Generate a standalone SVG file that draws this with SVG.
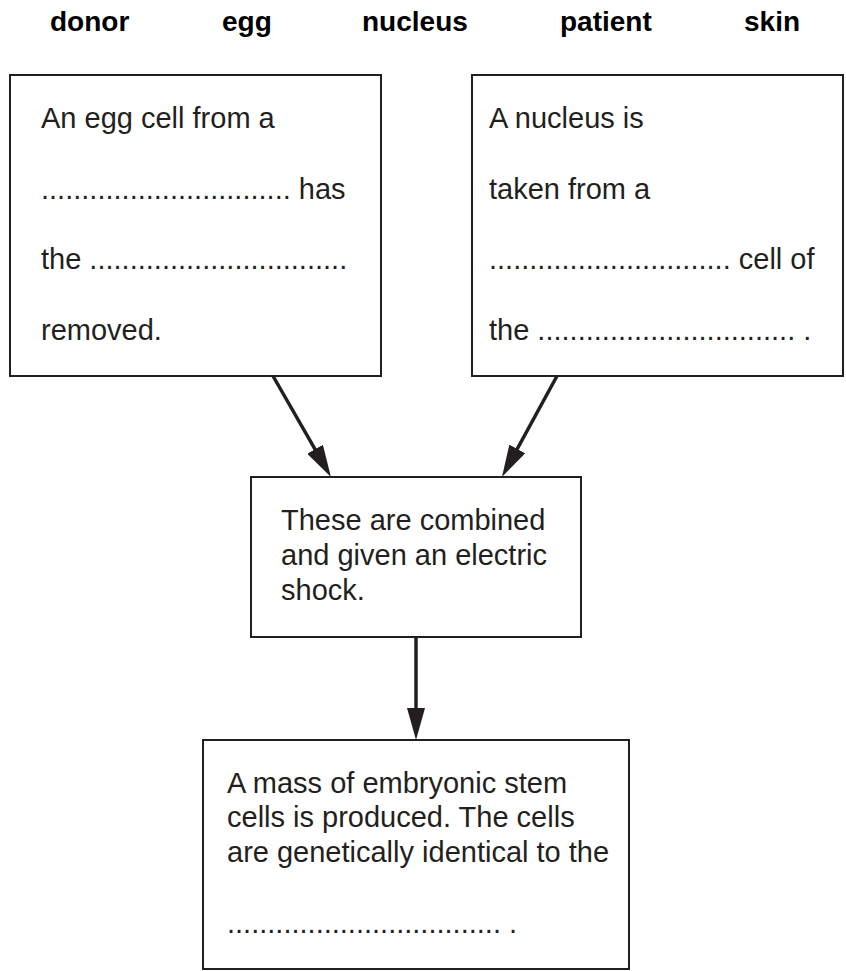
<svg xmlns="http://www.w3.org/2000/svg" width="846" height="971" viewBox="0 0 846 971">
<style>
.box{fill:#ffffff;stroke:#231f20;stroke-width:2}
.t{font-family:"Liberation Sans",Arial,sans-serif;font-size:29px;fill:#231f20}
.w{font-family:"Liberation Sans",Arial,sans-serif;font-size:28px;font-weight:bold;fill:#000000}
.c{stroke:#231f20;stroke-width:3.5;fill:none}
</style>
<defs>
<marker id="ah" viewBox="0 0 32 18" refX="20" refY="9" markerWidth="32" markerHeight="18" markerUnits="userSpaceOnUse" orient="auto">
<path d="M0,0 L32,9 L0,18 z" fill="#231f20"/>
</marker>
</defs>
<rect width="846" height="971" fill="#ffffff"/>
<g id="wordbank">
<text class="w" x="50" y="31">donor</text>
<text class="w" x="222" y="31">egg</text>
<text class="w" x="362" y="31">nucleus</text>
<text class="w" x="560" y="31">patient</text>
<text class="w" x="744" y="31">skin</text>
</g>
<g id="connectors">
<line class="c" x1="273" y1="376" x2="325" y2="466.6" marker-end="url(#ah)"/>
<line class="c" x1="557" y1="376" x2="507.7" y2="466.5" marker-end="url(#ah)"/>
<line class="c" x1="416" y1="637" x2="416" y2="728" marker-end="url(#ah)"/>
</g>
<g id="egg-box">
<rect class="box" x="10" y="75" width="371" height="301"/>
<text class="t" x="41" y="128">An egg cell from a</text>
<text class="t" x="41" y="199">............................... has</text>
<text class="t" x="41" y="269">the ................................</text>
<text class="t" x="41" y="340">removed.</text>
</g>
<g id="nucleus-box">
<rect class="box" x="472" y="75" width="371" height="301"/>
<text class="t" x="489" y="128">A nucleus is</text>
<text class="t" x="489" y="199">taken from a</text>
<text class="t" x="489" y="269">.............................. cell of</text>
<text class="t" x="489" y="340">the ................................ .</text>
</g>
<g id="combine-box">
<rect class="box" x="251" y="477" width="330" height="160"/>
<text class="t" x="281" y="530">These are combined</text>
<text class="t" x="281" y="565">and given an electric</text>
<text class="t" x="281" y="600">shock.</text>
</g>
<g id="result-box">
<rect class="box" x="203" y="740" width="426" height="229"/>
<text class="t" x="227" y="793">A mass of embryonic stem</text>
<text class="t" x="227" y="827">cells is produced. The cells</text>
<text class="t" x="227" y="862">are genetically identical to the</text>
<text class="t" x="227" y="933">.................................. .</text>
</g>
</svg>
